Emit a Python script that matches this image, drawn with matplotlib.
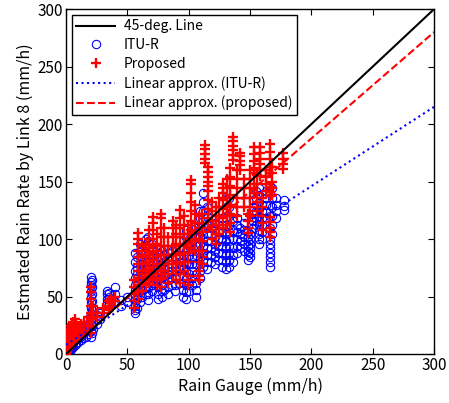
import matplotlib.pyplot as plt
import numpy as np

plt.rcParams['font.family'] = ['Noto Sans CJK JP', 'DejaVu Sans']

# ITU-R estimates: (rain gauge value, estimated rates at that gauge value)
itu_cols = [
    (0, [0, 1, 2, 3, 4, 5]), (1, [1, 3, 5, 7, 2]), (2, [2, 4, 6, 8, 10]),
    (3, [3, 5, 8, 11, 13]), (4, [4, 7, 10, 14, 16]), (5, [5, 8, 12, 15, 18]),
    (6, [6, 10, 13, 17]), (7, [8, 12, 15, 19]), (8, [9, 13, 17, 20]),
    (10, [10, 14, 18, 22]), (12, [12, 16, 20]), (14, [14, 18, 22, 24]),
    (16, [15, 20, 24]), (18, [17, 22, 26, 30]),
    (20, [15, 20, 25, 30, 35, 40, 45, 50, 55, 60, 63, 67]),
    (21, [18, 24, 30, 38, 46, 52, 58, 64]), (22, [22, 28, 34, 40]),
    (25, [26, 30, 34]), (28, [30, 36]), (33, [45, 48, 52, 55]),
    (35, [44, 50, 53]), (40, [45, 52, 58]), (45, [42, 47]), (50, [45, 50]),
    (56, [36, 38, 42, 47, 52, 56, 60, 66, 72, 80, 88]),
    (58, [40, 48, 55, 62, 70, 76, 84]),
    (60, [45, 52, 58, 65, 72, 78, 84, 90, 96]),
    (62, [50, 56, 62, 68, 74, 80]),
    (65, [52, 58, 64, 70, 76, 82, 88, 94, 100]),
    (67, [47, 52, 57, 62, 68, 74, 80, 86, 92, 98, 102]),
    (70, [55, 60, 65, 70, 75, 80, 85, 90, 96]),
    (72, [62, 68, 74, 80, 86]),
    (75, [48, 52, 58, 64, 70, 76, 82, 88]),
    (78, [50, 55, 60, 66, 72, 78, 84, 90]),
    (80, [56, 62, 68, 74, 80, 86]),
    (83, [52, 58, 64, 70, 76, 82, 88]),
    (86, [60, 66, 72, 78, 84, 90]),
    (89, [55, 60, 66, 72, 78, 84, 92]),
    (92, [62, 68, 74, 80, 86, 92, 98]),
    (95, [50, 56, 62, 68, 74, 80, 86, 92]),
    (98, [48, 54, 60, 66, 72, 78, 84, 90, 96, 102, 108]),
    (100, [55, 62, 70, 78, 86, 94, 100]),
    (103, [60, 66, 72, 78, 84, 90, 96, 104]),
    (106, [50, 56, 62, 70, 78, 86, 94, 102, 110]),
    (109, [66, 72, 78, 84, 90, 96, 102, 110, 118, 124]),
    (112, [76, 82, 88, 94, 100, 108, 116, 124, 132, 140]),
    (115, [74, 80, 86, 92, 98, 104, 112, 120, 128]),
    (118, [80, 86, 92, 98, 104, 110, 118]),
    (121, [78, 84, 90, 96, 102, 108, 114]),
    (124, [82, 88, 94, 100, 106, 112]),
    (127, [76, 82, 88, 94, 100, 106, 112, 118]),
    (130, [74, 80, 86, 92, 98, 104, 110, 118, 126, 134, 142]),
    (133, [76, 82, 88, 94, 100, 106, 112, 120, 128, 136]),
    (136, [80, 86, 92, 100, 108, 116, 124]),
    (139, [88, 94, 100, 106, 112, 118]),
    (142, [92, 98, 104, 110]),
    (145, [90, 96, 102, 108, 114]),
    (148, [82, 86, 90, 94, 98, 102, 106]),
    (150, [84, 88, 92, 96, 100, 104]),
    (152, [110, 116, 122, 128, 134]),
    (155, [112, 118, 124, 130, 136, 142]),
    (157, [96, 100, 104, 108, 112, 116, 120, 126, 132, 138, 144]),
    (160, [100, 106, 112, 118, 124, 130]),
    (163, [118, 124, 130, 136, 142]),
    (166, [76, 80, 84, 88, 92, 96, 100, 110, 120, 130, 140, 146]),
    (168, [104, 112, 120, 128, 136, 144]),
    (171, [118, 124, 130, 136]),
    (178, [125, 129, 134]),
]

# proposed method estimates
prop_cols = [
    (0, [0, 2, 4, 6]), (1, [2, 5, 8, 11, 14]), (2, [4, 8, 12, 16, 20]),
    (3, [6, 10, 14, 18, 22]), (4, [8, 12, 16, 20, 24]),
    (5, [10, 14, 18, 22, 26]), (6, [12, 16, 20, 24, 28]),
    (7, [14, 18, 22, 26, 30]), (8, [15, 19, 23, 27]), (10, [16, 20, 24]),
    (12, [18, 22, 26]), (15, [20, 24, 28]), (18, [24, 28, 32]),
    (20, [18, 24, 30, 36, 42, 48, 54, 58]), (22, [30, 36, 42]),
    (25, [32, 36]), (30, [36, 40]), (35, [38, 42, 46]), (37, [40, 44, 48]),
    (40, [46, 50]), (55, [40, 46, 52, 58, 64]),
    (59, [48, 54, 60, 66, 72, 78, 84, 90, 96, 100, 105]),
    (62, [55, 62, 70, 78, 86, 94]),
    (65, [60, 66, 72, 78, 84, 90, 96]),
    (68, [62, 68, 74, 80, 86, 92, 100, 108]),
    (71, [64, 70, 76, 82, 88, 94, 100, 108, 114, 119]),
    (74, [60, 66, 72, 78, 84, 90, 96, 104]),
    (77, [58, 64, 70, 78, 86, 94, 102, 110, 118, 122]),
    (80, [66, 72, 78, 86, 94, 102, 110]),
    (83, [62, 70, 78, 86, 94, 102]),
    (87, [70, 78, 86, 94, 102, 110, 116]),
    (90, [64, 72, 80, 88, 96, 104, 112]),
    (93, [62, 70, 78, 86, 94, 102, 110, 118, 125]),
    (96, [72, 80, 88, 96, 104, 112, 120]),
    (99, [60, 64, 68, 80, 88, 96, 104, 112]),
    (102, [92, 100, 108, 116, 124, 132, 140, 148, 151]),
    (105, [90, 98, 106, 114, 122, 130]),
    (108, [64, 68, 72, 80, 90, 100, 110, 120]),
    (111, [78, 84, 90, 98, 106, 114, 122]),
    (113, [166, 170, 174, 178, 182]),
    (116, [110, 118, 126, 134, 142, 146, 150, 154, 158, 163]),
    (119, [100, 108, 116, 124, 132]),
    (122, [96, 104, 112, 120, 128]),
    (125, [104, 112, 120, 128, 136]),
    (128, [110, 118, 126, 134, 140, 144, 148]),
    (131, [112, 120, 128, 136, 144, 152]),
    (134, [106, 114, 122, 130, 138, 146, 154, 162]),
    (136, [169, 173, 177, 181, 185, 189]),
    (139, [120, 128, 136, 144, 152, 160]),
    (142, [160, 164, 168, 172, 175]),
    (145, [128, 136, 144, 152]),
    (148, [105, 110, 116, 122]),
    (150, [120, 128, 136, 144, 152, 160]),
    (153, [140, 148, 157, 162, 168, 174, 180]),
    (156, [124, 132, 140, 148, 156]),
    (158, [155, 160, 165, 170, 175, 180]),
    (160, [108, 114, 120, 128, 136]),
    (163, [142, 148, 154, 160]),
    (166, [102, 106, 110, 115, 119, 137, 141, 145, 157, 163, 170, 176, 183]),
    (168, [138, 144, 150, 157, 163]),
    (177, [161, 165, 170, 175]),
]

# linear fits (slope, intercept)
fit_itu = (0.69, 8.0)
fit_prop = (0.925, 2.5)
line_x = [0, 300]

itu_x = [x for x, ys in itu_cols for _ in ys]
itu_y = [y for _, ys in itu_cols for y in ys]
prop_x = [x for x, ys in prop_cols for _ in ys]
prop_y = [y for _, ys in prop_cols for y in ys]

fig = plt.figure(figsize=(4.49, 4.03), dpi=100)
ax = fig.add_axes([0.147, 0.1216, 0.82, 0.856])

lx = np.array(line_x, dtype=float)
h45, = ax.plot(lx, lx, color='black', lw=1.5, zorder=5)
hitu, = ax.plot(itu_x, itu_y, 'o', mfc='none', mec='blue', ms=6, mew=0.8, zorder=2)
hpro, = ax.plot(prop_x, prop_y, '+', color='red', ms=7, mew=1.7, zorder=3)
hli, = ax.plot(lx, fit_itu[0] * lx + fit_itu[1], ':', color='blue', lw=1.5, zorder=4)
hlp, = ax.plot(lx, fit_prop[0] * lx + fit_prop[1], '--', color='red', lw=1.5, zorder=4)

ax.set_xlim(0, 300)
ax.set_ylim(0, 300)
ax.set_xticks(range(0, 301, 50))
ax.set_yticks(range(0, 301, 50))
ax.tick_params(direction='in', top=True, right=True, labelsize=11, length=4, pad=2)
for s in ax.spines.values():
    s.set_linewidth(1.0)

ax.set_xlabel('Rain Gauge (mm/h)', fontsize=11.5, labelpad=3)
ax.set_ylabel('Estmated Rain Rate by Link 8 (mm/h)', fontsize=11.5, labelpad=3)

leg = ax.legend([h45, hitu, hpro, hli, hlp],
                ['45-deg. Line', 'ITU-R', 'Proposed', 'Linear approx. (ITU-R)',
                 'Linear approx. (proposed)'],
                loc='upper left', fontsize=10, handlelength=2.8, handletextpad=0.6,
                fancybox=False, framealpha=1, edgecolor='black', borderpad=0.35,
                labelspacing=0.35, borderaxespad=0.4)
leg.get_frame().set_linewidth(1.0)

fig.savefig('out.png', dpi=100)
